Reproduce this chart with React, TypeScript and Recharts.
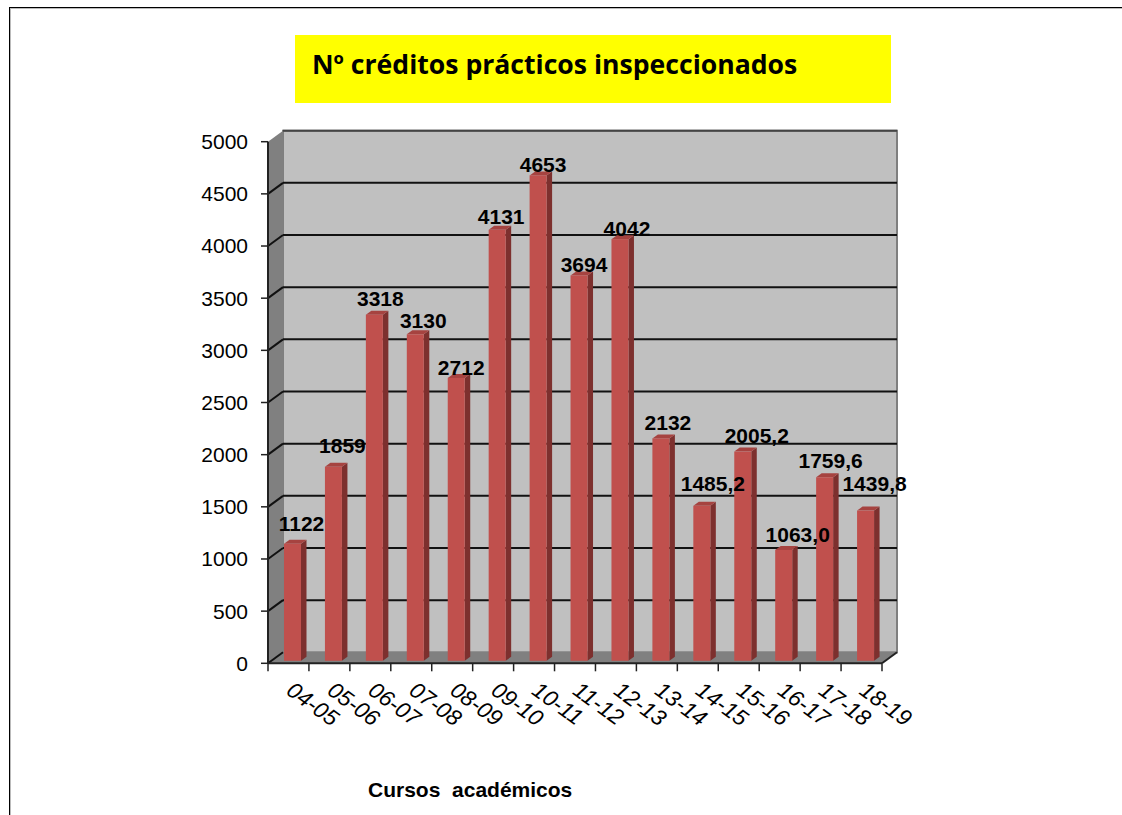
import { BarChart, Bar, XAxis, YAxis, CartesianGrid, LabelList, usePlotArea } from "recharts"

const courses = ["04-05", "05-06", "06-07", "07-08", "08-09", "09-10", "10-11", "11-12", "12-13", "13-14", "14-15", "15-16", "16-17", "17-18", "18-19"]
const credits = [1122, 1859, 3318, 3130, 2712, 4131, 4653, 3694, 4042, 2132, 1485.2, 2005.2, 1063.0, 1759.6, 1439.8]
const creditLabels = ["1122", "1859", "3318", "3130", "2712", "4131", "4653", "3694", "4042", "2132", "1485,2", "2005,2", "1063,0", "1759,6", "1439,8"]
const yTicks = [0, 500, 1000, 1500, 2000, 2500, 3000, 3500, 4000, 4500, 5000]

// hand placed nudges for the value labels, same as the original has them
const labelDx = [13, 13, 10, 12, 9, 8, 9, 9, 11, 11, 15, 18, 18, 10, 13]
const labelDy = [-15, -16, -11, -9, -5, -8, -6, -6, -6, -11, -17, -11, -10, -12, -22]

const chartData = courses.map((course, i) => ({ course, credits: credits[i], label: creditLabels[i] }))

const ARIAL = "'Liberation Sans', Arial, sans-serif"
const DEPTH_X = 15
const DEPTH_Y = 11
const FRONT = "#c0504d"
const SIDE = "#7d302e"
const TOP = "#a64340"

function Walls() {
  const p = usePlotArea()
  if (!p) return null
  const l = p.x
  const r = p.x + p.width
  const t = p.y
  const b = p.y + p.height
  return (
    <g>
      <rect x={l + DEPTH_X} y={t - DEPTH_Y} width={p.width} height={p.height} fill="#c0c0c0" stroke="#7f7f7f" strokeWidth={2} />
      <polygon points={`${l},${t} ${l + DEPTH_X},${t - DEPTH_Y} ${l + DEPTH_X},${b - DEPTH_Y} ${l},${b}`} fill="#808080" />
      <polygon points={`${l},${b} ${l + DEPTH_X},${b - DEPTH_Y} ${r + DEPTH_X},${b - DEPTH_Y} ${r},${b}`} fill="#808080" />
      <line x1={r} y1={b} x2={r + DEPTH_X} y2={b - DEPTH_Y} stroke="#222" strokeWidth={2} />
    </g>
  )
}

// walls go in with the first grid line so the other lines land on top of them
function GridLine(props: any) {
  const { x1, x2, y1, index } = props
  const p = usePlotArea()
  const isTop = p ? Math.abs(y1 - p.y) < 1 : false
  const isFloor = p ? Math.abs(y1 - (p.y + p.height)) < 1 : false
  return (
    <g>
      {index === 0 && <Walls />}
      {!isTop && <line x1={x1} y1={y1} x2={x1 + DEPTH_X} y2={y1 - DEPTH_Y} stroke="#111" strokeWidth={2} />}
      {!isFloor && <line x1={x1 + DEPTH_X} y1={y1 - DEPTH_Y} x2={x2 + DEPTH_X} y2={y1 - DEPTH_Y} stroke={isTop ? "#444" : "#111"} strokeWidth={2} />}
    </g>
  )
}

function Bar3D(props: any) {
  const { x, y, width, height } = props
  const fx = x + 4
  const fy = y - 2.5
  const dx = 5.5
  const dy = 4
  return (
    <g>
      <polygon points={`${fx + width},${fy} ${fx + width + dx},${fy - dy} ${fx + width + dx},${fy + height - dy} ${fx + width},${fy + height}`} fill={SIDE} />
      <polygon points={`${fx},${fy} ${fx + dx},${fy - dy} ${fx + width + dx},${fy - dy} ${fx + width},${fy}`} fill={TOP} />
      <rect x={fx} y={fy} width={width} height={height} fill={FRONT} />
    </g>
  )
}

function ValueLabel(props: any) {
  const { x, y, width, index, value } = props
  return (
    <text
      x={x + width / 2 + labelDx[index]}
      y={y + labelDy[index]}
      textAnchor="middle"
      fontFamily={ARIAL}
      fontSize={21}
      fontWeight="bold"
      fill="#000"
    >
      {value}
    </text>
  )
}

function CourseTick(props: any) {
  const { x, y, payload, index } = props
  const step = 614 / courses.length
  const left = x - step / 2
  return (
    <g>
      <line x1={left} y1={y - 8} x2={left} y2={y} stroke="#222" strokeWidth={1.5} />
      {index === courses.length - 1 && <line x1={left + step} y1={y - 8} x2={left + step} y2={y} stroke="#222" strokeWidth={1.5} />}
      <text
        x={left + 17}
        y={y + 22}
        transform={`rotate(36 ${left + 17} ${y + 22})`}
        fontFamily={ARIAL}
        fontSize={22.5}
        fontStyle="italic"
        fill="#000"
      >
        {payload.value}
      </text>
    </g>
  )
}

export default function App() {
  return (
    <div style={{ position: "absolute", left: 0, top: 0, width: 1122, height: 815, background: "#fff", overflow: "hidden" }}>
      <div style={{ position: "absolute", left: 9, top: 7, width: 1200, height: 900, borderLeft: "1px solid #000", borderTop: "1px solid #000", boxShadow: "inset 1px 1px 0 #bbb" }} />
      <div
        style={{
          position: "absolute",
          left: 295,
          top: 35,
          width: 596,
          height: 68,
          background: "#ffff00",
          fontFamily: "'Open Sans', sans-serif",
          fontWeight: 700,
          fontSize: 26.6,
          lineHeight: "58px",
          paddingLeft: 17,
          boxSizing: "border-box",
          color: "#000",
          whiteSpace: "nowrap",
        }}
      >
        Nº créditos prácticos inspeccionados
      </div>
      <BarChart
        width={1122}
        height={815}
        data={chartData}
        margin={{ top: 141.7, right: 240, bottom: 91.7, left: 208 }}
        style={{ position: "absolute", left: 0, top: 0 }}
      >
        <CartesianGrid vertical={false} horizontal={((props: any) => <GridLine {...props} />) as any} />
        <XAxis
          dataKey="course"
          height={60}
          interval={0}
          axisLine={{ stroke: "#222", strokeWidth: 2 }}
          tickLine={false}
          tick={CourseTick as any}
        />
        <YAxis
          width={60}
          domain={[0, 5000]}
          ticks={yTicks}
          interval={0}
          axisLine={{ stroke: "#222", strokeWidth: 2 }}
          tickLine={{ stroke: "#222", strokeWidth: 1.5 }}
          tickSize={7}
          tickMargin={13}
          tick={{ fill: "#000", fontFamily: ARIAL, fontSize: 21 }}
        />
        <Bar dataKey="credits" barSize={17} shape={Bar3D as any} isAnimationActive={false}>
          <LabelList dataKey="label" content={ValueLabel as any} />
        </Bar>
      </BarChart>
      <div style={{ position: "absolute", left: 368, top: 778, fontFamily: ARIAL, fontWeight: 700, fontSize: 21, whiteSpace: "pre", color: "#000" }}>
        Cursos  académicos
      </div>
    </div>
  )
}
